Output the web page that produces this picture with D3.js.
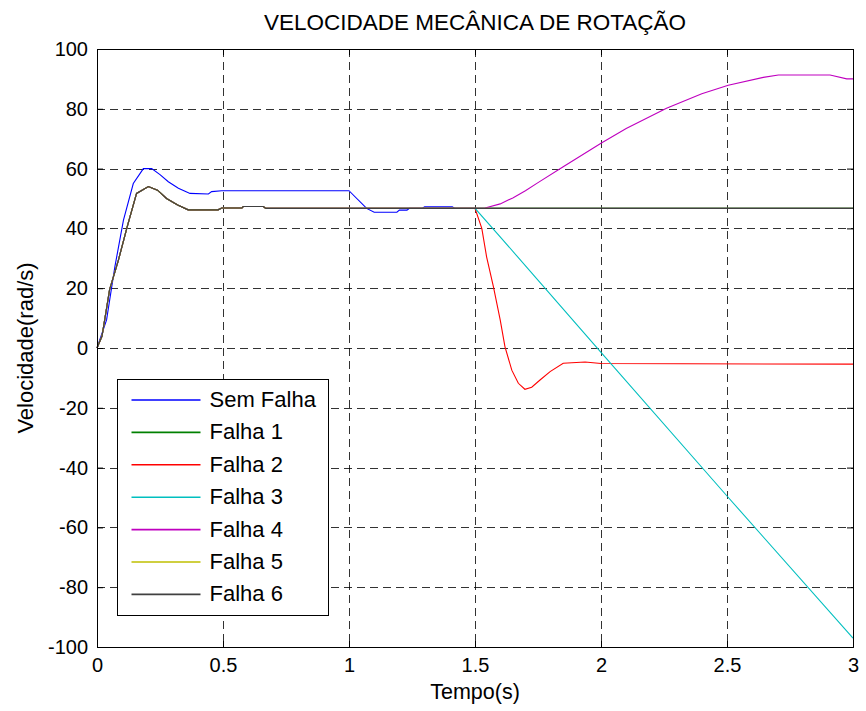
<!DOCTYPE html>
<html>
<head>
<meta charset="utf-8">
<script src="https://cdnjs.cloudflare.com/ajax/libs/d3/7.8.5/d3.min.js"></script>
<style>
  body { margin: 0; background: #fff; }
  svg { display: block; font-family: "Liberation Sans", Arial, sans-serif; }
</style>
</head>
<body>
<div id="chart"></div>
<script>
// ---- data (t in s, v in rad/s) ----
const seriesNames = ["Sem Falha", "Falha 1", "Falha 2", "Falha 3", "Falha 4", "Falha 5", "Falha 6"];
const seriesColors = ["#0000ff", "#008000", "#ff0000", "#00bfbf", "#bf00bf", "#bfbf00", "#404040"];

// start-up common to every fault case
const startT = [0, 0.02, 0.05, 0.085, 0.12, 0.157, 0.204, 0.24, 0.276, 0.32, 0.362, 0.48, 0.495, 0.575, 0.58, 0.66, 0.67, 1.5];
const startV = [0, 4, 19.5, 29.4, 40.6, 51.7, 54, 52.8, 50, 47.8, 46.2, 46.2, 46.8, 46.8, 47.3, 47.3, 46.7, 46.7];

const semFalhaT = [0, 0.038, 0.071, 0.105, 0.144, 0.184, 0.217, 0.25, 0.283, 0.323, 0.369, 0.442, 0.455, 0.495, 1.0, 1.07, 1.1, 1.19, 1.2, 1.23, 1.24, 1.29, 1.3, 1.41, 1.42, 3.0];
const semFalhaV = [0, 9.4, 27.2, 42.8, 55, 60, 60, 58, 55.6, 53.4, 51.7, 51.5, 52.3, 52.6, 52.6, 46.7, 45.4, 45.4, 46.1, 46.1, 46.7, 46.7, 47.2, 47.2, 46.7, 46.7];

const flatT = [3.0];
const flatV = [46.7];

const falha2T = [1.527, 1.546, 1.573, 1.6, 1.619, 1.646, 1.672, 1.698, 1.725, 1.758, 1.798, 1.85, 1.937, 2.0, 3.0];
const falha2V = [40, 30.5, 20.5, 9.4, 0.4, -7.4, -11.8, -13.8, -13.1, -10.7, -7.9, -5.1, -4.7, -5.2, -5.4];

const falha3T = [1.606, 2.0, 2.5, 3.0];
const falha3V = [36.6, -1.5, -49.5, -97];

const falha4T = [1.54, 1.6, 1.65, 1.7, 1.75, 1.85, 2.0, 2.1, 2.26, 2.4, 2.505, 2.644, 2.704, 2.909, 2.975, 3.0];
const falha4V = [46.8, 48.2, 50.2, 52.6, 55.3, 60.6, 68.5, 73.4, 80.2, 85, 87.9, 90.5, 91.3, 91.3, 90, 90];

const xTicks = [0, 0.5, 1, 1.5, 2, 2.5, 3];
const yTicks = [-100, -80, -60, -40, -20, 0, 20, 40, 60, 80, 100];

function pts(ts, vs) { return ts.map((t, i) => ({ t: t, v: vs[i] })); }
const startUp = pts(startT, startV);
const seriesData = [
  pts(semFalhaT, semFalhaV),
  startUp.concat(pts(flatT, flatV)),
  startUp.concat(pts(falha2T, falha2V)),
  startUp.concat(pts(falha3T, falha3V)),
  startUp.concat(pts(falha4T, falha4V)),
  startUp.concat(pts(flatT, flatV)),
  startUp.concat(pts(flatT, flatV))
];

// ---- layout ----
const width = 866, height = 711;
const margin = { top: 49, right: 13, bottom: 64, left: 97 };
const innerWidth = width - margin.left - margin.right;
const innerHeight = height - margin.top - margin.bottom;

const svg = d3.select("#chart").append("svg")
  .attr("width", width)
  .attr("height", height);

const g = svg.append("g")
  .attr("transform", `translate(${margin.left},${margin.top})`);

const xScale = d3.scaleLinear().domain([0, 3]).range([0, innerWidth]);
const yScale = d3.scaleLinear().domain([-100, 100]).range([innerHeight, 0]);

// grid
g.append("g").selectAll("line")
  .data(xTicks.slice(1, -1))
  .enter().append("line")
  .attr("x1", d => Math.round(xScale(d)) + 0.5)
  .attr("x2", d => Math.round(xScale(d)) + 0.5)
  .attr("y1", 0).attr("y2", innerHeight)
  .attr("stroke", "#000").attr("stroke-width", 1)
  .attr("stroke-dasharray", "8,5").attr("opacity", 0.8);

g.append("g").selectAll("line")
  .data(yTicks.slice(1, -1))
  .enter().append("line")
  .attr("y1", d => Math.round(yScale(d)) + 0.5)
  .attr("y2", d => Math.round(yScale(d)) + 0.5)
  .attr("x1", 0).attr("x2", innerWidth)
  .attr("stroke", "#000").attr("stroke-width", 1)
  .attr("stroke-dasharray", "8,5").attr("opacity", 0.8);

// lines
const line = d3.line().x(d => xScale(d.t)).y(d => yScale(d.v));
g.append("g").selectAll("path")
  .data(seriesData)
  .enter().append("path")
  .attr("d", line)
  .attr("fill", "none")
  .attr("stroke", (d, i) => seriesColors[i])
  .attr("stroke-width", 1.1);

// axes (ticks pointing inward, on all four sides)
const fmt = d => String(d); // plain hyphen for negatives, like the original
const xAxis = d3.axisBottom(xScale).tickValues(xTicks).tickSize(-6).tickPadding(11).tickFormat(fmt);
const yAxis = d3.axisLeft(yScale).tickValues(yTicks).tickSize(-6).tickPadding(9).tickFormat(fmt);

const gx = g.append("g").attr("transform", `translate(0,${innerHeight})`).call(xAxis);
const gy = g.append("g").call(yAxis);
g.append("g").call(d3.axisTop(xScale).tickValues(xTicks).tickSize(-6).tickFormat(""));
g.append("g").attr("transform", `translate(${innerWidth},0)`)
  .call(d3.axisRight(yScale).tickValues(yTicks).tickSize(-6).tickFormat(""));

g.selectAll(".domain").attr("stroke", "#000").attr("stroke-width", 1);
g.selectAll(".tick line").attr("stroke", "#000");
[gx, gy].forEach(a => a.selectAll("text")
  .style("font-size", "20px")
  .style("font-family", '"Liberation Sans", Arial, sans-serif')
  .attr("fill", "#000"));

// title and labels
svg.append("text")
  .attr("x", margin.left + innerWidth / 2)
  .attr("y", 30)
  .attr("text-anchor", "middle")
  .style("font-size", "22.5px")
  .text("VELOCIDADE MECÂNICA DE ROTAÇÃO");

svg.append("text")
  .attr("x", margin.left + innerWidth / 2)
  .attr("y", 699)
  .attr("text-anchor", "middle")
  .style("font-size", "21.5px")
  .text("Tempo(s)");

svg.append("text")
  .attr("transform", `translate(33,${margin.top + innerHeight / 2}) rotate(-90)`)
  .attr("text-anchor", "middle")
  .style("font-size", "22px")
  .text("Velocidade(rad/s)");

// legend
const legend = svg.append("g").attr("transform", "translate(117.5,379.5)");
legend.append("rect")
  .attr("width", 211).attr("height", 236)
  .attr("fill", "#fff").attr("stroke", "#000").attr("stroke-width", 1);

const items = legend.selectAll(".item")
  .data(seriesNames)
  .enter().append("g")
  .attr("class", "item")
  .attr("transform", (d, i) => `translate(0,${20 + i * 32.4})`);

items.append("line")
  .attr("x1", 14).attr("x2", 83)
  .attr("y1", 0.5).attr("y2", 0.5)
  .attr("stroke", d => seriesColors[seriesNames.indexOf(d)])
  .attr("stroke-width", 1.6);

items.append("text")
  .attr("x", 92).attr("y", 7.5)
  .style("font-size", "22px")
  .text(d => d);
</script>
</body>
</html>
